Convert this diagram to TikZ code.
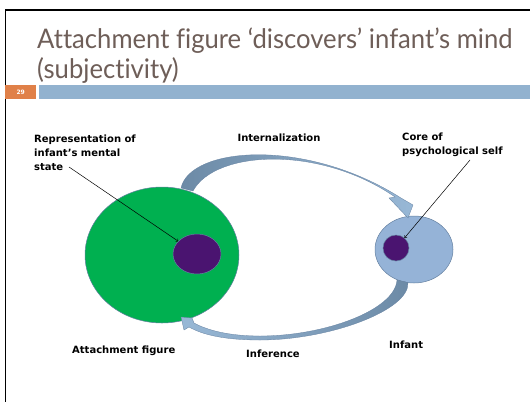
\documentclass[tikz,border=0pt]{standalone}
\usepackage{fontspec}
\setmainfont{DejaVu Sans}
\newfontfamily\titlefont[FakeStretch=0.95,Ligatures=NoCommon]{Lato}
\usetikzlibrary{shapes.geometric}
\definecolor{titlebrown}{RGB}{110,94,88}
\definecolor{barblue}{RGB}{146,178,207}
\definecolor{numorange}{RGB}{224,128,72}
\definecolor{attgreen}{RGB}{0,176,80}
\definecolor{infblue}{RGB}{149,179,215}
\definecolor{edgeblue}{RGB}{100,128,160}
\definecolor{corepurple}{RGB}{74,20,112}
\definecolor{darkarrow}{RGB}{108,138,166}
\definecolor{lightarrow}{RGB}{152,184,214}

\begin{document}
\begin{tikzpicture}[x=1pt,y=-1pt,
  lbl/.style={font=\bfseries\fontsize{10}{14}\selectfont, align=left, inner sep=0},
  core/.style={ellipse, fill=corepurple, draw=edgeblue, line width=0.5, inner sep=0},
  bandarrow/.style={draw=edgeblue, line width=0.3},
  pointer/.style={->, line width=0.5}]
  \useasboundingbox (0,0) rectangle (530,402);
  % slide frame, title and bar
  \draw[line width=1.2] (530,10) -- (5.5,10) -- (5.5,402);
  \node[anchor=base west, inner sep=0, text=titlebrown, font=\titlefont\fontsize{27}{30}\selectfont]
    (title1) at (37,48) {Attachment figure ‘discovers’ infant’s mind};
  \node[anchor=base west, inner sep=0, text=titlebrown, font=\titlefont\fontsize{27}{30}\selectfont]
    (title2) at (37,78) {(subjectivity)};
  \node[anchor=north west, fill=numorange, minimum width=31, minimum height=14, inner sep=0,
    text=white, font=\bfseries\fontsize{6}{6}\selectfont] (slideno) at (5,85) {29};
  \fill[barblue] (39,85) rectangle (530,99);

  % minds
  \node[ellipse, fill=attgreen, draw=edgeblue, line width=0.5, minimum width=154, minimum height=136] (attach) at (162,255) {};
  \node[core, minimum width=48, minimum height=40] (mindrep) at (197,254) {};
  \node[ellipse, fill=infblue, draw=edgeblue, line width=0.5, minimum width=78, minimum height=67] (infant) at (414,249.5) {};
  \node[core, minimum width=26, minimum height=26] (selfcore) at (396,248) {};

  % internalization / inference
  \shade[bandarrow, left color=darkarrow, right color=lightarrow]
    (181,188) .. controls (190,147) and (305,137) .. (401,198)
    -- (413,205) -- (408,218) -- (389,198) -- (395,197)
    .. controls (320,145) and (215,150) .. (193,191) -- cycle;
  \shade[bandarrow, left color=lightarrow, right color=darkarrow]
    (408,282.5) .. controls (410,310) and (330,340) .. (260,340)
    .. controls (225,340) and (203,335) .. (189,327) -- (184,330) -- (181,317) -- (192,318) -- (194,323)
    .. controls (207,330) and (228,336) .. (260,336)
    .. controls (325,336) and (395,310) .. (397,280) -- cycle;

  % labels
  \node[lbl, anchor=north west] (replbl) at (34,134.5) {Representation of\\infant’s mental\\state};
  \node[lbl, anchor=north west] (corelbl) at (402,132.5) {Core of\\psychological self};
  \node[lbl, anchor=base] (intlbl) at (279,141.5) {Internalization};
  \foreach \n/\x/\y/\t in {attlbl/72/353/Attachment figure, inflbl/246/357.5/Inference, infantlbl/389/348/Infant}
    { \node[lbl, anchor=base west] (\n) at (\x,\y) {\t}; }

  \coordinate (repfrom) at (69,167);
  \coordinate (corefrom) at (470,160);
  \draw[pointer] (repfrom) -- (mindrep);
  \draw[pointer] (corefrom) -- (selfcore);
\end{tikzpicture}
\end{document}
